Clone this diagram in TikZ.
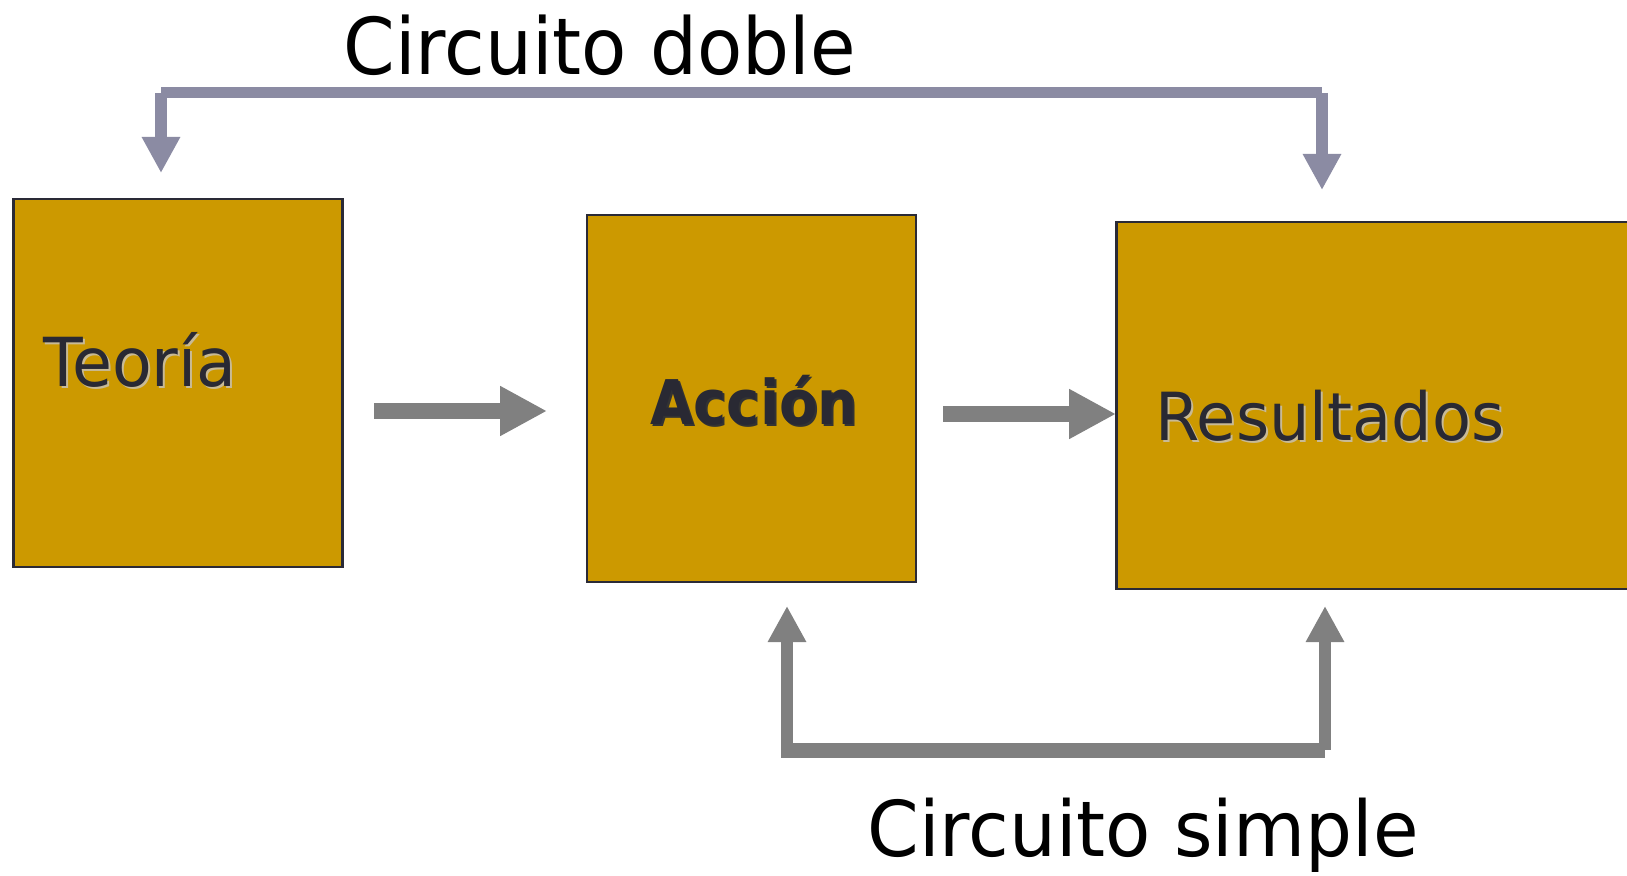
\documentclass[tikz,border=0pt]{standalone}
\usepackage{fontspec}
\setmainfont{DejaVu Sans}
\usetikzlibrary{arrows.meta}
\definecolor{gold}{RGB}{204,153,0}
\definecolor{boxline}{RGB}{42,42,54}
\definecolor{txtdark}{RGB}{41,41,51}
\definecolor{arrowgray}{RGB}{128,128,128}
\definecolor{lavender}{RGB}{139,139,163}
\definecolor{lightshadow}{RGB}{200,186,150}
\tikzset{
  boxnode/.style={draw=boxline, line width=1.25pt, fill=gold, inner sep=0pt},
  boxtext/.style={anchor=base west, inner sep=0pt, text=txtdark, font=\fontsize{32.5pt}{36pt}\selectfont},
  boxshadow/.style={anchor=base west, inner sep=0pt, text=lightshadow, font=\fontsize{32.5pt}{36pt}\selectfont},
  titletext/.style={anchor=base west, inner sep=0pt, text=black, font=\fontsize{37pt}{40pt}\selectfont},
  flowarrow/.style={draw=arrowgray, line width=8pt, -{Triangle[length=23.5pt,width=23.5pt]}},
  loopline/.style={line width=5.5pt, line cap=butt},
  looparrow/.style={line width=5.8pt, line cap=butt, -{Triangle[length=18pt,width=18pt]}}
}
\begin{document}
\begin{tikzpicture}[x=0.5pt,y=-0.5pt]
\useasboundingbox (0,0) rectangle (1627,876);
\clip (0,0) rectangle (1627,876);
\fill[white] (0,0) rectangle (1627,876);

% boxes
\node[boxnode, minimum width=164.5pt, minimum height=184pt] (teoria) at (178,383) {};
\node[boxnode, minimum width=164.5pt, minimum height=183.5pt] (accion) at (751.5,398.5) {};
\node[boxnode, minimum width=262pt, minimum height=183.5pt] (result) at (1378.5,405.5) {};

% box labels
\node[boxshadow] (teoriaS) at (45,389) {\scalebox{1}[1.04]{Teoría}};
\node[boxtext] (teoriaT) at (43,387) {\scalebox{1}[1.04]{Teoría}};
\node[anchor=base west, inner sep=0pt, text=black!80, font=\bfseries\fontsize{28pt}{32pt}\selectfont] (accionS) at (652,427) {\scalebox{1}[1.1]{Acción}};
\node[anchor=base west, inner sep=0pt, text=txtdark, font=\bfseries\fontsize{28pt}{32pt}\selectfont] (accionT) at (650,425) {\scalebox{1}[1.1]{Acción}};
\node[boxshadow, font=\fontsize{31.9pt}{35pt}\selectfont] (resultS) at (1157,443) {\scalebox{1}[1.04]{Resultados}};
\node[boxtext, font=\fontsize{31.9pt}{35pt}\selectfont] (resultT) at (1155,441) {\scalebox{1}[1.04]{Resultados}};

% titles
\node[titletext] (doble) at (343,75) {\scalebox{1}[1.06]{Circuito doble}};
\node[titletext] (simple) at (867,856) {\scalebox{1}[1.04]{Circuito simple}};

% forward arrows
\coordinate (a1s) at (374,411);
\coordinate (a1e) at (547,411);
\coordinate (a2s) at (943,414);
\coordinate (a2e) at (1116,414);
\draw[flowarrow] (a1s) -- (a1e);
\draw[flowarrow] (a2s) -- (a2e);

% double loop (top)
\coordinate (dL) at (161,93);
\coordinate (dR) at (1322,93);
\coordinate (dLt) at (161,173);
\coordinate (dRt) at (1322,190);
\draw[loopline, draw=lavender] (dL) -- (dR);
\draw[looparrow, draw=lavender] (dL) -- (dLt);
\draw[looparrow, draw=lavender] (dR) -- (dRt);

% simple loop (bottom)
\coordinate (sL) at (787,750);
\coordinate (sR) at (1325,750);
\coordinate (sLt) at (787,606);
\coordinate (sRt) at (1325,606);
\draw[loopline, draw=arrowgray, line width=7.5pt] ([xshift=-2.9pt]sL) -- (sR);
\draw[looparrow, draw=arrowgray] (sL) -- (sLt);
\draw[looparrow, draw=arrowgray] (sR) -- (sRt);
\end{tikzpicture}
\end{document}
